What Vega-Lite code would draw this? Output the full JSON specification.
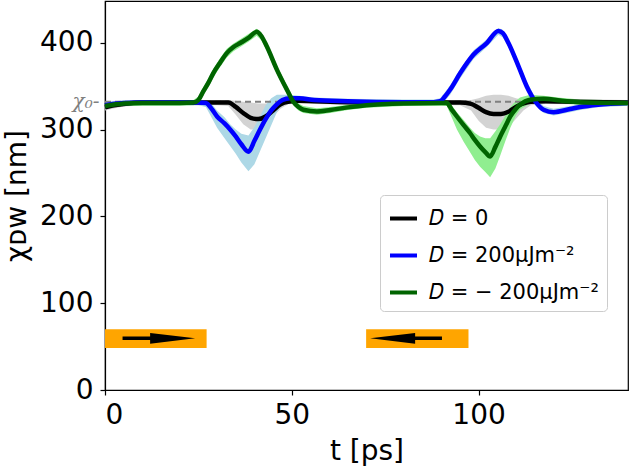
{
  "$schema": "https://vega.github.io/schema/vega-lite/v6.json",
  "width": 523,
  "height": 389,
  "autosize": "none",
  "padding": {"left": 105, "top": 1, "right": 1, "bottom": 76},
  "config": {
    "font": "DejaVu Sans",
    "view": {"stroke": "black", "strokeWidth": 1.2},
    "axis": {
      "grid": false,
      "domainColor": "black",
      "domainWidth": 1.2,
      "tickColor": "black",
      "tickSize": 5,
      "tickWidth": 1.2,
      "labelFont": "DejaVu Sans",
      "labelFontSize": 28,
      "labelColor": "black",
      "titleFont": "DejaVu Sans",
      "titleFontSize": 28,
      "titleFontWeight": "normal",
      "titleColor": "black"
    }
  },
  "datasets": {
    "curves": [
      {"D": "𝐷 = 0", "t": 0, "x": 325.5, "lo": 322, "hi": 329},
      {"D": "𝐷 = 0", "t": 2, "x": 327.5, "lo": 324, "hi": 331},
      {"D": "𝐷 = 0", "t": 5, "x": 329.5, "lo": 326.5, "hi": 332.5},
      {"D": "𝐷 = 0", "t": 10, "x": 331, "lo": 328, "hi": 334},
      {"D": "𝐷 = 0", "t": 20, "x": 331, "lo": 328, "hi": 334},
      {"D": "𝐷 = 0", "t": 30, "x": 331, "lo": 328, "hi": 334},
      {"D": "𝐷 = 0", "t": 33, "x": 331, "lo": 327, "hi": 334},
      {"D": "𝐷 = 0", "t": 35, "x": 326, "lo": 317, "hi": 333},
      {"D": "𝐷 = 0", "t": 37, "x": 319, "lo": 306, "hi": 332},
      {"D": "𝐷 = 0", "t": 39, "x": 313.5, "lo": 300, "hi": 331},
      {"D": "𝐷 = 0", "t": 41, "x": 312, "lo": 300, "hi": 330},
      {"D": "𝐷 = 0", "t": 43, "x": 315, "lo": 305, "hi": 330},
      {"D": "𝐷 = 0", "t": 45, "x": 322, "lo": 315, "hi": 331},
      {"D": "𝐷 = 0", "t": 47, "x": 329, "lo": 324, "hi": 333},
      {"D": "𝐷 = 0", "t": 49, "x": 332, "lo": 329, "hi": 335},
      {"D": "𝐷 = 0", "t": 52, "x": 333, "lo": 330, "hi": 336},
      {"D": "𝐷 = 0", "t": 56, "x": 332.5, "lo": 329.5, "hi": 335.5},
      {"D": "𝐷 = 0", "t": 65, "x": 331.5, "lo": 328.5, "hi": 334.5},
      {"D": "𝐷 = 0", "t": 80, "x": 331, "lo": 328, "hi": 334},
      {"D": "𝐷 = 0", "t": 95, "x": 331, "lo": 328, "hi": 334},
      {"D": "𝐷 = 0", "t": 98, "x": 329.5, "lo": 322, "hi": 334},
      {"D": "𝐷 = 0", "t": 100, "x": 325, "lo": 310, "hi": 336},
      {"D": "𝐷 = 0", "t": 102, "x": 320, "lo": 302, "hi": 339},
      {"D": "𝐷 = 0", "t": 104, "x": 318, "lo": 300, "hi": 340},
      {"D": "𝐷 = 0", "t": 106, "x": 318, "lo": 300, "hi": 340},
      {"D": "𝐷 = 0", "t": 108, "x": 320.5, "lo": 303, "hi": 339},
      {"D": "𝐷 = 0", "t": 110, "x": 326, "lo": 312, "hi": 336},
      {"D": "𝐷 = 0", "t": 112, "x": 330, "lo": 322, "hi": 334},
      {"D": "𝐷 = 0", "t": 114, "x": 332, "lo": 328, "hi": 335},
      {"D": "𝐷 = 0", "t": 118, "x": 332.5, "lo": 329.5, "hi": 335.5},
      {"D": "𝐷 = 0", "t": 125, "x": 332, "lo": 329, "hi": 335},
      {"D": "𝐷 = 0", "t": 140, "x": 331, "lo": 328, "hi": 334},

      {"D": "𝐷 = 200μJm⁻²", "t": 0, "x": 328, "lo": 325, "hi": 331},
      {"D": "𝐷 = 200μJm⁻²", "t": 2, "x": 329.5, "lo": 326.5, "hi": 332.5},
      {"D": "𝐷 = 200μJm⁻²", "t": 5, "x": 330.5, "lo": 327.5, "hi": 333.5},
      {"D": "𝐷 = 200μJm⁻²", "t": 10, "x": 331, "lo": 328, "hi": 334},
      {"D": "𝐷 = 200μJm⁻²", "t": 25, "x": 331, "lo": 328, "hi": 334},
      {"D": "𝐷 = 200μJm⁻²", "t": 27, "x": 330.5, "lo": 326, "hi": 333},
      {"D": "𝐷 = 200μJm⁻²", "t": 28.5, "x": 324, "lo": 314, "hi": 330},
      {"D": "𝐷 = 200μJm⁻²", "t": 30, "x": 315, "lo": 302, "hi": 322},
      {"D": "𝐷 = 200μJm⁻²", "t": 32, "x": 307, "lo": 290, "hi": 314},
      {"D": "𝐷 = 200μJm⁻²", "t": 33.5, "x": 300, "lo": 281, "hi": 306},
      {"D": "𝐷 = 200μJm⁻²", "t": 35, "x": 292, "lo": 272, "hi": 300},
      {"D": "𝐷 = 200μJm⁻²", "t": 36.5, "x": 283, "lo": 262, "hi": 295},
      {"D": "𝐷 = 200μJm⁻²", "t": 38.4, "x": 274.5, "lo": 252, "hi": 293},
      {"D": "𝐷 = 200μJm⁻²", "t": 40, "x": 287, "lo": 260, "hi": 303},
      {"D": "𝐷 = 200μJm⁻²", "t": 41.5, "x": 300, "lo": 275, "hi": 315},
      {"D": "𝐷 = 200μJm⁻²", "t": 43, "x": 312, "lo": 290, "hi": 328},
      {"D": "𝐷 = 200μJm⁻²", "t": 44.5, "x": 322, "lo": 305, "hi": 336},
      {"D": "𝐷 = 200μJm⁻²", "t": 46, "x": 329, "lo": 320, "hi": 340},
      {"D": "𝐷 = 200μJm⁻²", "t": 47.5, "x": 334, "lo": 329, "hi": 340},
      {"D": "𝐷 = 200μJm⁻²", "t": 49.5, "x": 336, "lo": 333, "hi": 340},
      {"D": "𝐷 = 200μJm⁻²", "t": 52, "x": 336, "lo": 333, "hi": 339},
      {"D": "𝐷 = 200μJm⁻²", "t": 56, "x": 334, "lo": 331, "hi": 337},
      {"D": "𝐷 = 200μJm⁻²", "t": 65, "x": 332.5, "lo": 329.5, "hi": 335.5},
      {"D": "𝐷 = 200μJm⁻²", "t": 80, "x": 331.5, "lo": 328.5, "hi": 334.5},
      {"D": "𝐷 = 200μJm⁻²", "t": 88, "x": 331.5, "lo": 328.5, "hi": 334.5},
      {"D": "𝐷 = 200μJm⁻²", "t": 89.7, "x": 332.5, "lo": 329, "hi": 336},
      {"D": "𝐷 = 200μJm⁻²", "t": 91, "x": 338, "lo": 333, "hi": 343},
      {"D": "𝐷 = 200μJm⁻²", "t": 92.4, "x": 346, "lo": 340, "hi": 351},
      {"D": "𝐷 = 200μJm⁻²", "t": 95.1, "x": 365, "lo": 359, "hi": 370},
      {"D": "𝐷 = 200μJm⁻²", "t": 98.6, "x": 386, "lo": 381, "hi": 391},
      {"D": "𝐷 = 200μJm⁻²", "t": 102.2, "x": 399.6, "lo": 395, "hi": 404},
      {"D": "𝐷 = 200μJm⁻²", "t": 105.3, "x": 413.5, "lo": 409, "hi": 417},
      {"D": "𝐷 = 200μJm⁻²", "t": 106.5, "x": 411, "lo": 406, "hi": 415},
      {"D": "𝐷 = 200μJm⁻²", "t": 108, "x": 399.6, "lo": 395, "hi": 404},
      {"D": "𝐷 = 200μJm⁻²", "t": 110.7, "x": 372.7, "lo": 368, "hi": 378},
      {"D": "𝐷 = 200μJm⁻²", "t": 112.9, "x": 349.6, "lo": 345, "hi": 355},
      {"D": "𝐷 = 200μJm⁻²", "t": 115.2, "x": 332.3, "lo": 328, "hi": 337},
      {"D": "𝐷 = 200μJm⁻²", "t": 117.4, "x": 322.8, "lo": 319, "hi": 327},
      {"D": "𝐷 = 200μJm⁻²", "t": 120.1, "x": 320, "lo": 316, "hi": 324},
      {"D": "𝐷 = 200μJm⁻²", "t": 124.5, "x": 323.6, "lo": 320, "hi": 327},
      {"D": "𝐷 = 200μJm⁻²", "t": 127.2, "x": 325.9, "lo": 322.5, "hi": 329.5},
      {"D": "𝐷 = 200μJm⁻²", "t": 132, "x": 328.5, "lo": 325.5, "hi": 331.5},
      {"D": "𝐷 = 200μJm⁻²", "t": 140, "x": 330.5, "lo": 327.5, "hi": 333.5},

      {"D": "𝐷 = − 200μJm⁻²", "t": 0, "x": 327, "lo": 324, "hi": 330},
      {"D": "𝐷 = − 200μJm⁻²", "t": 2, "x": 328.5, "lo": 325.5, "hi": 331.5},
      {"D": "𝐷 = − 200μJm⁻²", "t": 5, "x": 330, "lo": 327, "hi": 333},
      {"D": "𝐷 = − 200μJm⁻²", "t": 10, "x": 330.5, "lo": 327.5, "hi": 333.5},
      {"D": "𝐷 = − 200μJm⁻²", "t": 20, "x": 330.5, "lo": 327.5, "hi": 333.5},
      {"D": "𝐷 = − 200μJm⁻²", "t": 23.7, "x": 331, "lo": 328, "hi": 334},
      {"D": "𝐷 = − 200μJm⁻²", "t": 25, "x": 334, "lo": 330, "hi": 338},
      {"D": "𝐷 = − 200μJm⁻²", "t": 26.3, "x": 343.9, "lo": 339, "hi": 349},
      {"D": "𝐷 = − 200μJm⁻²", "t": 27.7, "x": 354, "lo": 349, "hi": 359},
      {"D": "𝐷 = − 200μJm⁻²", "t": 29, "x": 365, "lo": 360, "hi": 370},
      {"D": "𝐷 = − 200μJm⁻²", "t": 30.8, "x": 377, "lo": 372, "hi": 382},
      {"D": "𝐷 = − 200μJm⁻²", "t": 32.6, "x": 388, "lo": 383, "hi": 393},
      {"D": "𝐷 = − 200μJm⁻²", "t": 34.4, "x": 395, "lo": 390, "hi": 399},
      {"D": "𝐷 = − 200μJm⁻²", "t": 36.2, "x": 399.6, "lo": 395, "hi": 404},
      {"D": "𝐷 = − 200μJm⁻²", "t": 38.4, "x": 405.5, "lo": 401, "hi": 410},
      {"D": "𝐷 = − 200μJm⁻²", "t": 40.6, "x": 412.5, "lo": 408, "hi": 416},
      {"D": "𝐷 = − 200μJm⁻²", "t": 41.8, "x": 408, "lo": 403, "hi": 412},
      {"D": "𝐷 = − 200μJm⁻²", "t": 43.3, "x": 395.8, "lo": 391, "hi": 400},
      {"D": "𝐷 = − 200μJm⁻²", "t": 46, "x": 369, "lo": 364, "hi": 374},
      {"D": "𝐷 = − 200μJm⁻²", "t": 48.7, "x": 345.8, "lo": 341, "hi": 351},
      {"D": "𝐷 = − 200μJm⁻²", "t": 50.4, "x": 332, "lo": 328, "hi": 337},
      {"D": "𝐷 = − 200μJm⁻²", "t": 51.8, "x": 326, "lo": 322, "hi": 330},
      {"D": "𝐷 = − 200μJm⁻²", "t": 53.1, "x": 322.8, "lo": 319, "hi": 327},
      {"D": "𝐷 = − 200μJm⁻²", "t": 56.7, "x": 320.8, "lo": 317, "hi": 324.5},
      {"D": "𝐷 = − 200μJm⁻²", "t": 60.3, "x": 322.5, "lo": 319, "hi": 326},
      {"D": "𝐷 = − 200μJm⁻²", "t": 65, "x": 325.5, "lo": 322.5, "hi": 328.5},
      {"D": "𝐷 = − 200μJm⁻²", "t": 70, "x": 328, "lo": 325, "hi": 331},
      {"D": "𝐷 = − 200μJm⁻²", "t": 80, "x": 330, "lo": 327, "hi": 333},
      {"D": "𝐷 = − 200μJm⁻²", "t": 90, "x": 330.5, "lo": 327.5, "hi": 333.5},
      {"D": "𝐷 = − 200μJm⁻²", "t": 91.5, "x": 330.4, "lo": 327, "hi": 334},
      {"D": "𝐷 = − 200μJm⁻²", "t": 92.8, "x": 323, "lo": 314, "hi": 328},
      {"D": "𝐷 = − 200μJm⁻²", "t": 94.2, "x": 315, "lo": 300, "hi": 320},
      {"D": "𝐷 = − 200μJm⁻²", "t": 96, "x": 305, "lo": 286, "hi": 311},
      {"D": "𝐷 = − 200μJm⁻²", "t": 97.7, "x": 296, "lo": 274, "hi": 302},
      {"D": "𝐷 = − 200μJm⁻²", "t": 99, "x": 288, "lo": 265, "hi": 296},
      {"D": "𝐷 = − 200μJm⁻²", "t": 100.4, "x": 280.5, "lo": 257, "hi": 292},
      {"D": "𝐷 = − 200μJm⁻²", "t": 101.8, "x": 274, "lo": 251, "hi": 290},
      {"D": "𝐷 = − 200μJm⁻²", "t": 103.1, "x": 268.9, "lo": 245, "hi": 290},
      {"D": "𝐷 = − 200μJm⁻²", "t": 104.5, "x": 280, "lo": 255, "hi": 298},
      {"D": "𝐷 = − 200μJm⁻²", "t": 105.8, "x": 292, "lo": 270, "hi": 306},
      {"D": "𝐷 = − 200μJm⁻²", "t": 107.2, "x": 304, "lo": 287, "hi": 316},
      {"D": "𝐷 = − 200μJm⁻²", "t": 108.5, "x": 315, "lo": 302, "hi": 326},
      {"D": "𝐷 = − 200μJm⁻²", "t": 110, "x": 324, "lo": 316, "hi": 333},
      {"D": "𝐷 = − 200μJm⁻²", "t": 111.1, "x": 328.5, "lo": 323, "hi": 337},
      {"D": "𝐷 = − 200μJm⁻²", "t": 113.8, "x": 334.3, "lo": 330, "hi": 340},
      {"D": "𝐷 = − 200μJm⁻²", "t": 117.4, "x": 335.5, "lo": 332, "hi": 339},
      {"D": "𝐷 = − 200μJm⁻²", "t": 121.9, "x": 333.4, "lo": 330, "hi": 336.5},
      {"D": "𝐷 = − 200μJm⁻²", "t": 127.2, "x": 331.5, "lo": 328.5, "hi": 334.5},
      {"D": "𝐷 = − 200μJm⁻²", "t": 140, "x": 330.5, "lo": 327.5, "hi": 333.5}
    ],
    "pulses": [
      {"t0": 0, "t1": 27.2, "lo": 48.5, "hi": 70},
      {"t0": 69.9, "t1": 97.3, "lo": 48.5, "hi": 70}
    ],
    "shafts": [
      {"a0": 4.7, "a1": 18, "y": 59.5},
      {"a0": 77, "a1": 90.2, "y": 59.5}
    ],
    "heads": [
      {"tc": 18.1, "y": 59.5, "angle": 0},
      {"tc": 77, "y": 59.5, "angle": 180}
    ],
    "ref": [
      {"x0": 0, "x1": 140, "y": 332}
    ]
  },
  "layer": [
    {
      "data": {"name": "pulses"},
      "mark": {"type": "rect", "color": "orange"},
      "encoding": {
        "x": {"field": "t0", "type": "quantitative", "scale": {"domain": [0, 140], "nice": false}, "title": "t [ps]",
              "axis": {"values": [0, 50, 100], "labelPadding": 6, "titlePadding": 8}},
        "x2": {"field": "t1"},
        "y": {"field": "lo", "type": "quantitative", "scale": {"domain": [0, 448], "nice": false}, "title": "χᴅᴡ [nm]",
              "axis": {
                "values": [0, 100, 200, 300, 332, 400],
                "labelOverlap": false,
                "labelPadding": {"condition": {"test": "datum.value == 332", "value": 1}, "value": 7},
                "labelExpr": "datum.value == 332 ? 'χ₀-' : datum.label",
                "labelColor": {"condition": {"test": "datum.value == 332", "value": "gray"}, "value": "black"},
                "labelFont": {"condition": {"test": "datum.value == 332", "value": "DejaVu Serif"}, "value": "DejaVu Sans"},
                "labelFontStyle": {"condition": {"test": "datum.value == 332", "value": "italic"}, "value": "normal"},
                "labelFontSize": {"condition": {"test": "datum.value == 332", "value": 20}, "value": 28},
                "tickColor": {"condition": {"test": "datum.value == 332", "value": "transparent"}, "value": "black"},
                "titlePadding": 8
              }},
        "y2": {"field": "hi"}
      }
    },
    {
      "data": {"name": "shafts"},
      "mark": {"type": "rule", "color": "black", "strokeWidth": 3.5},
      "encoding": {
        "x": {"field": "a0", "type": "quantitative", "title": "t [ps]"},
        "x2": {"field": "a1"},
        "y": {"field": "y", "type": "quantitative", "title": "χᴅᴡ [nm]"}
      }
    },
    {
      "data": {"name": "heads"},
      "mark": {"type": "point", "shape": "M -1 -0.24 L 1 0 L -1 0.24 Z", "size": 2025, "filled": true, "color": "black", "opacity": 1},
      "encoding": {
        "x": {"field": "tc", "type": "quantitative", "title": "t [ps]"},
        "y": {"field": "y", "type": "quantitative", "title": "χᴅᴡ [nm]"},
        "angle": {"field": "angle", "type": "quantitative", "scale": null}
      }
    },
    {
      "data": {"name": "curves"},
      "mark": {"type": "area", "opacity": 1},
      "encoding": {
        "x": {"field": "t", "type": "quantitative", "title": "t [ps]"},
        "y": {"field": "lo", "type": "quantitative", "title": "χᴅᴡ [nm]"},
        "y2": {"field": "hi"},
        "color": {"field": "D", "type": "nominal", "legend": null,
                  "scale": {"domain": ["𝐷 = 0", "𝐷 = 200μJm⁻²", "𝐷 = − 200μJm⁻²"], "range": ["#d3d3d3", "#add8e6", "#90ee90"]}}
      }
    },
    {
      "data": {"name": "ref"},
      "mark": {"type": "rule", "color": "gray", "strokeWidth": 2, "strokeDash": [6, 4]},
      "encoding": {
        "x": {"field": "x0", "type": "quantitative", "title": "t [ps]"},
        "x2": {"field": "x1"},
        "y": {"field": "y", "type": "quantitative", "title": "χᴅᴡ [nm]"}
      }
    },
    {
      "data": {"name": "curves"},
      "mark": {"type": "line", "strokeWidth": 4.5, "interpolate": "monotone"},
      "encoding": {
        "x": {"field": "t", "type": "quantitative", "title": "t [ps]"},
        "y": {"field": "x", "type": "quantitative", "title": "χᴅᴡ [nm]"},
        "color": {"field": "D", "type": "nominal",
                  "scale": {"domain": ["𝐷 = 0", "𝐷 = 200μJm⁻²", "𝐷 = − 200μJm⁻²"], "range": ["black", "blue", "#006400"]},
                  "legend": {
                    "orient": "none", "legendX": 275, "legendY": 194, "title": null,
                    "symbolType": "stroke", "symbolStrokeWidth": 4, "symbolSize": 729,
                    "labelFont": "DejaVu Sans", "labelFontSize": 21, "labelColor": "black", "labelOffset": 10, "labelLimit": 400,
                    "rowPadding": 11, "padding": 8, "fillColor": "white", "strokeColor": "#cccccc", "cornerRadius": 4
                  }}
      }
    }
  ],
  "resolve": {"scale": {"color": "independent"}}
}
